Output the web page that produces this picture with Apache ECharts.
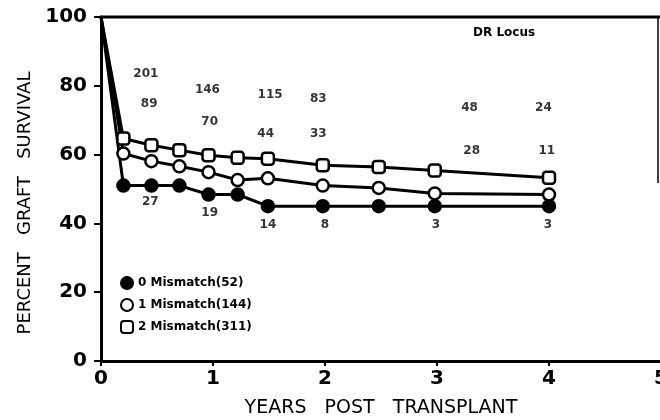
<!DOCTYPE html>
<html>
<head>
<meta charset="utf-8">
<script src="https://cdn.jsdelivr.net/npm/echarts@6/dist/echarts.min.js"></script>
<style>
  html, body { margin: 0; padding: 0; background: #fff; }
  #chart { width: 660px; height: 420px; }
</style>
</head>
<body>
<div id="chart"></div>
<script>
// years post transplant
var years = [0, 0.2, 0.45, 0.7, 0.96, 1.22, 1.49, 1.98, 2.48, 2.98, 4.0];
// percent graft survival per group
var mm0 = [100, 51.0, 51.0, 51.0, 48.4, 48.4, 45.0, 45.0, 45.0, 45.0, 45.0];
var mm1 = [100, 60.3, 58.1, 56.6, 54.9, 52.6, 53.1, 51.0, 50.3, 48.7, 48.4];
var mm2 = [100, 64.7, 62.7, 61.3, 59.8, 59.1, 58.8, 56.9, 56.4, 55.4, 53.3];
var names = ['0 Mismatch(52)', '1 Mismatch(144)', '2 Mismatch(311)'];

// patients at risk (numbers printed on the plot)
var countX = [0.40, 0.43, 0.95, 0.97, 1.51, 1.47, 1.94, 1.94, 3.29, 3.95, 3.31, 3.98, 0.44, 0.97, 1.49, 2.0, 2.99, 3.99];
var countY = [83.5, 74.8, 78.8, 69.5, 77.3, 65.9, 76.1, 65.9, 73.7, 73.7, 61.0, 61.0, 46.2, 43.0, 39.7, 39.7, 39.7, 39.7];
var countText = ['201', '89', '146', '70', '115', '44', '83', '33', '48', '24', '28', '11', '27', '19', '14', '8', '3', '3'];

var yTicks = [0, 20, 40, 60, 80, 100];

function pts(vals) {
  return vals.map(function (v, i) {
    var d = { value: [years[i], v] };
    if (i === 0) d.symbol = 'none';
    return d;
  });
}

var font = 'DejaVu Sans';

function lineSeries(name, vals, symbol, fill) {
  return {
    name: name,
    type: 'line',
    data: pts(vals),
    symbol: symbol,
    symbolSize: 12,
    lineStyle: { color: '#000', width: 3 },
    itemStyle: { color: fill, borderColor: '#000', borderWidth: 2.5 },
    z: 3
  };
}

var chart = echarts.init(document.getElementById('chart'));
chart.setOption({
  animation: false,
  backgroundColor: '#fff',
  grid: {
    left: 101, top: 17, width: 560, bottom: 59,
    outerBoundsMode: 'none',
    containLabel: false
  },
  legend: {
    orient: 'vertical',
    left: 120, top: 276,
    padding: 0,
    itemGap: 8,
    itemWidth: 12, itemHeight: 12,
    textStyle: { fontFamily: font, fontWeight: 'bold', fontSize: 12, color: '#000' },
    data: [
      { name: names[0], icon: 'circle' },
      { name: names[1], icon: 'circle' },
      { name: names[2], icon: 'roundRect' }
    ]
  },
  xAxis: {
    type: 'value', min: 0, max: 5, interval: 1,
    name: 'YEARS   POST   TRANSPLANT',
    nameLocation: 'middle', nameGap: 38,
    nameTextStyle: { fontFamily: font, fontSize: 19, color: '#000' },
    axisLine: { lineStyle: { color: '#000', width: 3 } },
    axisTick: { length: 5, lineStyle: { color: '#000', width: 2 } },
    axisLabel: { fontFamily: font, fontWeight: 'bold', fontSize: 20, color: '#000', margin: 8 },
    splitLine: { show: false }
  },
  yAxis: {
    type: 'value', min: yTicks[0], max: yTicks[yTicks.length - 1], interval: 20,
    name: 'PERCENT   GRAFT   SURVIVAL',
    nameLocation: 'middle', nameGap: 66,
    nameTextStyle: { fontFamily: font, fontSize: 18, color: '#000', padding: [0, 28, 0, 0] },
    axisLine: { lineStyle: { color: '#000', width: 3 } },
    axisTick: { length: 7, lineStyle: { color: '#000', width: 2 } },
    axisLabel: { fontFamily: font, fontWeight: 'bold', fontSize: 20, color: '#000', margin: 14 },
    splitLine: { show: false }
  },
  graphic: [
    { type: 'line', shape: { x1: 100, y1: 17, x2: 660, y2: 17 }, style: { stroke: '#000', lineWidth: 3 } },
    { type: 'line', shape: { x1: 658, y1: 16, x2: 658, y2: 183 }, style: { stroke: '#000', lineWidth: 1.5 } },
    { type: 'text', left: 473, top: 27, style: { text: 'DR Locus', font: 'bold 12px "DejaVu Sans"', fill: '#000' } }
  ],
  series: [
    lineSeries(names[0], mm0, 'circle', '#000'),
    lineSeries(names[1], mm1, 'circle', '#fff'),
    lineSeries(names[2], mm2, 'roundRect', '#fff'),
    {
      type: 'scatter',
      symbolSize: 0,
      silent: true,
      data: countX.map(function (x, i) { return [x, countY[i], countText[i]]; }),
      label: {
        show: true, position: 'inside',
        formatter: function (p) { return p.value[2]; },
        fontFamily: font, fontWeight: 'bold', fontSize: 12, color: '#000'
      }
    }
  ]
});
</script>
</body>
</html>
